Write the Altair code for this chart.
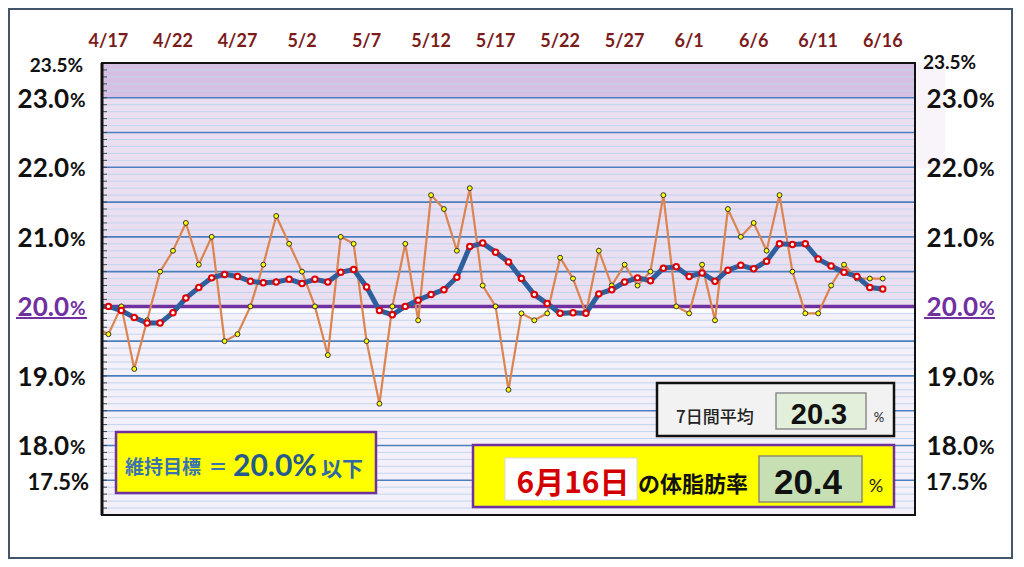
import altair as alt
import pandas as pd
import numpy as np

# ---------------- data ----------------
# 4/16 (just outside the left edge) .. 6/16
dates = pd.date_range("2024-04-16", "2024-06-16", freq="D")
daily = [19.7,
         19.6, 20.0, 19.1, 19.8, 20.5, 20.8, 21.2, 20.6, 21.0, 19.5,
         19.6, 20.0, 20.6, 21.3, 20.9, 20.5, 20.0, 19.3, 21.0, 20.9,
         19.5, 18.6, 20.0, 20.9, 19.8, 21.6, 21.4, 20.8, 21.7, 20.3,
         20.0, 18.8, 19.9, 19.8, 19.9, 20.7, 20.4, 19.9, 20.8, 20.3,
         20.6, 20.3, 20.5, 21.6, 20.0, 19.9, 20.6, 19.8, 21.4, 21.0,
         21.2, 20.8, 21.6, 20.5, 19.9, 19.9, 20.3, 20.6, 20.4, 20.4,
         20.4]
avg7 = [20.0,
        20.00, 19.94, 19.84, 19.76, 19.76, 19.91, 20.12, 20.27, 20.41, 20.46,
        20.43, 20.36, 20.34, 20.35, 20.39, 20.33, 20.39, 20.35, 20.49, 20.53,
        20.28, 19.94, 19.88, 20.00, 20.09, 20.17, 20.24, 20.42, 20.86, 20.91,
        20.78, 20.64, 20.40, 20.17, 20.04, 19.90, 19.91, 19.90, 20.18, 20.24,
        20.35, 20.41, 20.37, 20.55, 20.57, 20.43, 20.48, 20.36, 20.52, 20.59,
        20.54, 20.65, 20.90, 20.89, 20.90, 20.68, 20.58, 20.49, 20.43, 20.27,
        20.25]
x_labels = ["4/17", "4/22", "4/27", "5/2", "5/7", "5/12", "5/17",
            "5/22", "5/27", "6/1", "6/6", "6/11", "6/16"]
x_label_dates = ["2024-04-17", "2024-04-22", "2024-04-27", "2024-05-02",
                 "2024-05-07", "2024-05-12", "2024-05-17", "2024-05-22",
                 "2024-05-27", "2024-06-01", "2024-06-06", "2024-06-11",
                 "2024-06-16"]
y_big_vals = [23.0, 22.0, 21.0, 20.0, 19.0, 18.0]
y_big_text = ["23.0", "22.0", "21.0", "20.0", "19.0", "18.0"]
y_small_vals = [23.5, 17.5]
y_small_text = ["23.5%", "17.5%"]
target = 20.0
avg_text = "20.3"
today_text = "20.4"
today_label = "6月16日"

start = pd.Timestamp("2024-04-17")
day_idx = [(d - start).days for d in dates]
series = pd.DataFrame({"day": day_idx, "daily": daily, "avg": avg7})

xl = pd.DataFrame({"day": [(pd.Timestamp(d) - start).days for d in x_label_dates],
                   "t": x_labels})

W, H = 813, 452
xs = alt.Scale(domain=[-0.5, 62.5], nice=False, zero=False)
ys = alt.Scale(domain=[17.0, 23.5], nice=False, zero=False)
one = pd.DataFrame({"a": [0]})
PURPLE = "#7030a0"
FONT = "Lato"
CJK = "Noto Sans CJK JP"
NUMFONT = "Liberation Sans Narrow, Liberation Sans"


def X(f="day:Q"):
    return alt.X(f, scale=xs, axis=None)


def Y(f):
    return alt.Y(f, scale=ys, axis=None)


layers = []

# background bands
bands = pd.DataFrame({"lo": [23.0, 20.0, 17.0, 19.9],
                      "hi": [23.5, 23.0, 20.0, 20.0],
                      "c": ["#d5bfe3", "#eadff1", "#f4f0f9", "#ffffff"]})
layers.append(alt.Chart(bands).mark_rect().encode(
    y=Y("lo:Q"), y2="hi:Q", x=alt.value(0), x2=alt.value(W),
    color=alt.Color("c:N", scale=None)))

# faint box right of plot
layers.append(alt.Chart(one).mark_rect(fill="#f8f4fa").encode(
    x=alt.value(W), x2=alt.value(W + 30), y=alt.value(0), y2=alt.value(105)))

# gridlines
minor = [round(v, 1) for v in np.arange(17.1, 23.45, 0.1) if abs(v * 2 - round(v * 2)) > 1e-6]
major = [17.5, 18.0, 18.5, 19.0, 19.5, 20.5, 21.0, 21.5, 22.0, 22.5, 23.0]
layers.append(alt.Chart(pd.DataFrame({"v": minor})).mark_rule(
    color="#c2d5ee", strokeWidth=1).encode(y=Y("v:Q")))
layers.append(alt.Chart(pd.DataFrame({"v": major})).mark_rule(
    color="#4a7fbf", strokeWidth=1.6).encode(y=Y("v:Q")))
# small ticks on left axis
layers.append(alt.Chart(pd.DataFrame({"v": minor + major})).mark_rule(
    color="#444", strokeWidth=1).encode(y=Y("v:Q"), x=alt.value(0), x2=alt.value(5)))
# target line
layers.append(alt.Chart(pd.DataFrame({"v": [target]})).mark_rule(
    color=PURPLE, strokeWidth=3.5).encode(y=Y("v:Q")))

# daily series
layers.append(alt.Chart(series).mark_line(color="#dc8450", strokeWidth=2.2, clip=True).encode(
    x=X(), y=Y("daily:Q")))
layers.append(alt.Chart(series).mark_circle(size=24, color="#ffff00", stroke="#333",
                                            strokeWidth=1, opacity=1, clip=True).encode(
    x=X(), y=Y("daily:Q")))
# 7-day average
layers.append(alt.Chart(series).mark_line(color="#2e5e9e", strokeWidth=5, clip=True).encode(
    x=X(), y=Y("avg:Q")))
layers.append(alt.Chart(series).mark_circle(size=30, color="#ffffff", stroke="#e00000",
                                            strokeWidth=2, opacity=1, clip=True).encode(
    x=X(), y=Y("avg:Q")))

# plot frame
layers.append(alt.Chart(one).mark_rect(fill=None, stroke="#111", strokeWidth=2).encode(
    x=alt.value(0), x2=alt.value(W), y=alt.value(0), y2=alt.value(H)))
layers.append(alt.Chart(one).mark_rule(color="#111", strokeWidth=3).encode(
    x=alt.value(0), y=alt.value(0), y2=alt.value(H)))

# top date labels
layers.append(alt.Chart(xl).mark_text(font=FONT, fontSize=18, fontWeight="bold",
                                      color="#7b1c1c", baseline="middle").encode(
    x=X(), y=alt.value(-21), text="t:N"))

# y labels
big = pd.DataFrame({"v": y_big_vals, "t": y_big_text,
                    "c": [PURPLE if v == target else "#111" for v in y_big_vals]})
small = pd.DataFrame({"v": y_small_vals, "t": y_small_text})
for num_x, pct_x in [(-33, -32), (876, 877)]:
    layers.append(alt.Chart(big).mark_text(font=FONT, fontSize=26, fontWeight="bold",
                                           align="right", baseline="middle", dy=2).encode(
        y=Y("v:Q"), x=alt.value(num_x), text="t:N", color=alt.Color("c:N", scale=None)))
    layers.append(alt.Chart(big).mark_text(font=FONT, fontSize=19, fontWeight="bold",
                                           align="left", baseline="middle", dy=3).encode(
        y=Y("v:Q"), x=alt.value(pct_x), text=alt.value("%"),
        color=alt.Color("c:N", scale=None)))
layers.append(alt.Chart(small.iloc[[0]]).mark_text(font=FONT, fontSize=19, fontWeight="bold",
                                                   align="right", baseline="middle", dy=3,
                                                   color="#111").encode(
    y=Y("v:Q"), x=alt.value(-19), text="t:N"))
layers.append(alt.Chart(small.iloc[[1]]).mark_text(font=FONT, fontSize=22, fontWeight="bold",
                                                   align="right", baseline="middle", dy=3,
                                                   color="#111").encode(
    y=Y("v:Q"), x=alt.value(-13), text="t:N"))
layers.append(alt.Chart(small.iloc[[0]]).mark_text(font=FONT, fontSize=19, fontWeight="bold",
                                                   align="left", baseline="middle", dy=0,
                                                   color="#111").encode(
    y=Y("v:Q"), x=alt.value(821), text="t:N"))
layers.append(alt.Chart(small.iloc[[1]]).mark_text(font=FONT, fontSize=22, fontWeight="bold",
                                                   align="left", baseline="middle", dy=3,
                                                   color="#111").encode(
    y=Y("v:Q"), x=alt.value(824), text="t:N"))
# underline of 20.0%
for a, b in [(-86, -15), (822, 893)]:
    layers.append(alt.Chart(one).mark_rule(color=PURPLE, strokeWidth=2).encode(
        x=alt.value(a), x2=alt.value(b), y=alt.value(255)))

# ---- box: target ----
layers.append(alt.Chart(one).mark_rect(fill="#ffff00", stroke=PURPLE, strokeWidth=2.5).encode(
    x=alt.value(14), x2=alt.value(274), y=alt.value(369), y2=alt.value(430)))
layers.append(alt.Chart(one).mark_text(font=CJK, fontSize=19, fontWeight="bold", color="#3a74b0",
                                       align="left", baseline="alphabetic").encode(
    x=alt.value(23), y=alt.value(411), text=alt.value("維持目標")))
layers.append(alt.Chart(one).mark_text(font=CJK, fontSize=19, fontWeight="bold", color="#3a74b0",
                                       align="center", baseline="alphabetic").encode(
    x=alt.value(116), y=alt.value(411), text=alt.value("＝")))
layers.append(alt.Chart(one).mark_text(font=FONT, fontSize=30, fontWeight="bold", color="#245a8f",
                                       align="left", baseline="alphabetic").encode(
    x=alt.value(131), y=alt.value(413), text=alt.value("20.0%")))
layers.append(alt.Chart(one).mark_text(font=CJK, fontSize=21, fontWeight="bold", color="#2f68a2",
                                       align="left", baseline="alphabetic").encode(
    x=alt.value(219), y=alt.value(413), text=alt.value("以下")))

# ---- box: 7-day average ----
layers.append(alt.Chart(one).mark_rect(fill="#f2f2f2", stroke="#111", strokeWidth=2.5).encode(
    x=alt.value(555), x2=alt.value(792), y=alt.value(320), y2=alt.value(373)))
layers.append(alt.Chart(one).mark_text(font=CJK, fontSize=17, fontWeight=500, color="#222",
                                       align="left", baseline="alphabetic").encode(
    x=alt.value(574), y=alt.value(360), text=alt.value("7日間平均")))
layers.append(alt.Chart(one).mark_rect(fill="#e2efda", stroke="#8c8c8c", strokeWidth=1.5).encode(
    x=alt.value(674), x2=alt.value(764), y=alt.value(330), y2=alt.value(366)))
layers.append(alt.Chart(one).mark_text(font=NUMFONT, fontSize=29,
                                       fontWeight="bold", color="#111",
                                       align="center", baseline="alphabetic").encode(
    x=alt.value(717), y=alt.value(361), text=alt.value(avg_text)))
layers.append(alt.Chart(one).mark_text(font=FONT, fontSize=13, color="#222",
                                       align="center", baseline="alphabetic").encode(
    x=alt.value(777), y=alt.value(359), text=alt.value("%")))

# ---- box: today's value ----
layers.append(alt.Chart(one).mark_rect(fill="#ffff00", stroke=PURPLE, strokeWidth=2.5).encode(
    x=alt.value(371), x2=alt.value(792), y=alt.value(382), y2=alt.value(444)))
layers.append(alt.Chart(one).mark_rect(fill="#ffffff", stroke="#d9d9d9", strokeWidth=1).encode(
    x=alt.value(403), x2=alt.value(535), y=alt.value(395), y2=alt.value(437)))
layers.append(alt.Chart(one).mark_text(font=CJK, fontSize=30, fontWeight="bold", color="#d40000",
                                       align="center", baseline="alphabetic").encode(
    x=alt.value(471), y=alt.value(430), text=alt.value(today_label)))
layers.append(alt.Chart(one).mark_text(font=CJK, fontSize=22, fontWeight="bold", color="#111",
                                       align="left", baseline="alphabetic").encode(
    x=alt.value(536), y=alt.value(429), text=alt.value("の体脂肪率")))
layers.append(alt.Chart(one).mark_rect(fill="#c6e0b4", stroke="#8c8c6e", strokeWidth=1.5).encode(
    x=alt.value(657), x2=alt.value(760), y=alt.value(393), y2=alt.value(439)))
layers.append(alt.Chart(one).mark_text(font=NUMFONT, fontSize=35,
                                       fontWeight="bold", color="#111",
                                       align="center", baseline="alphabetic").encode(
    x=alt.value(706), y=alt.value(431), text=alt.value(today_text)))
layers.append(alt.Chart(one).mark_text(font=FONT, fontSize=18, color="#222",
                                       align="center", baseline="alphabetic").encode(
    x=alt.value(774), y=alt.value(429), text=alt.value("%")))

# outer frame
layers.append(alt.Chart(one).mark_rect(fill=None, stroke="#44546a", strokeWidth=2).encode(
    x=alt.value(-93), x2=alt.value(910), y=alt.value(-54), y2=alt.value(495)))

chart = alt.layer(*layers).properties(
    width=W, height=H,
    autosize=alt.AutoSizeParams(type="none"),
    padding={"left": 94, "top": 55, "right": 101, "bottom": 44},
    background="white",
).configure_view(stroke=None)

chart.save("out.html", embed_options={"renderer": "svg", "actions": False})
